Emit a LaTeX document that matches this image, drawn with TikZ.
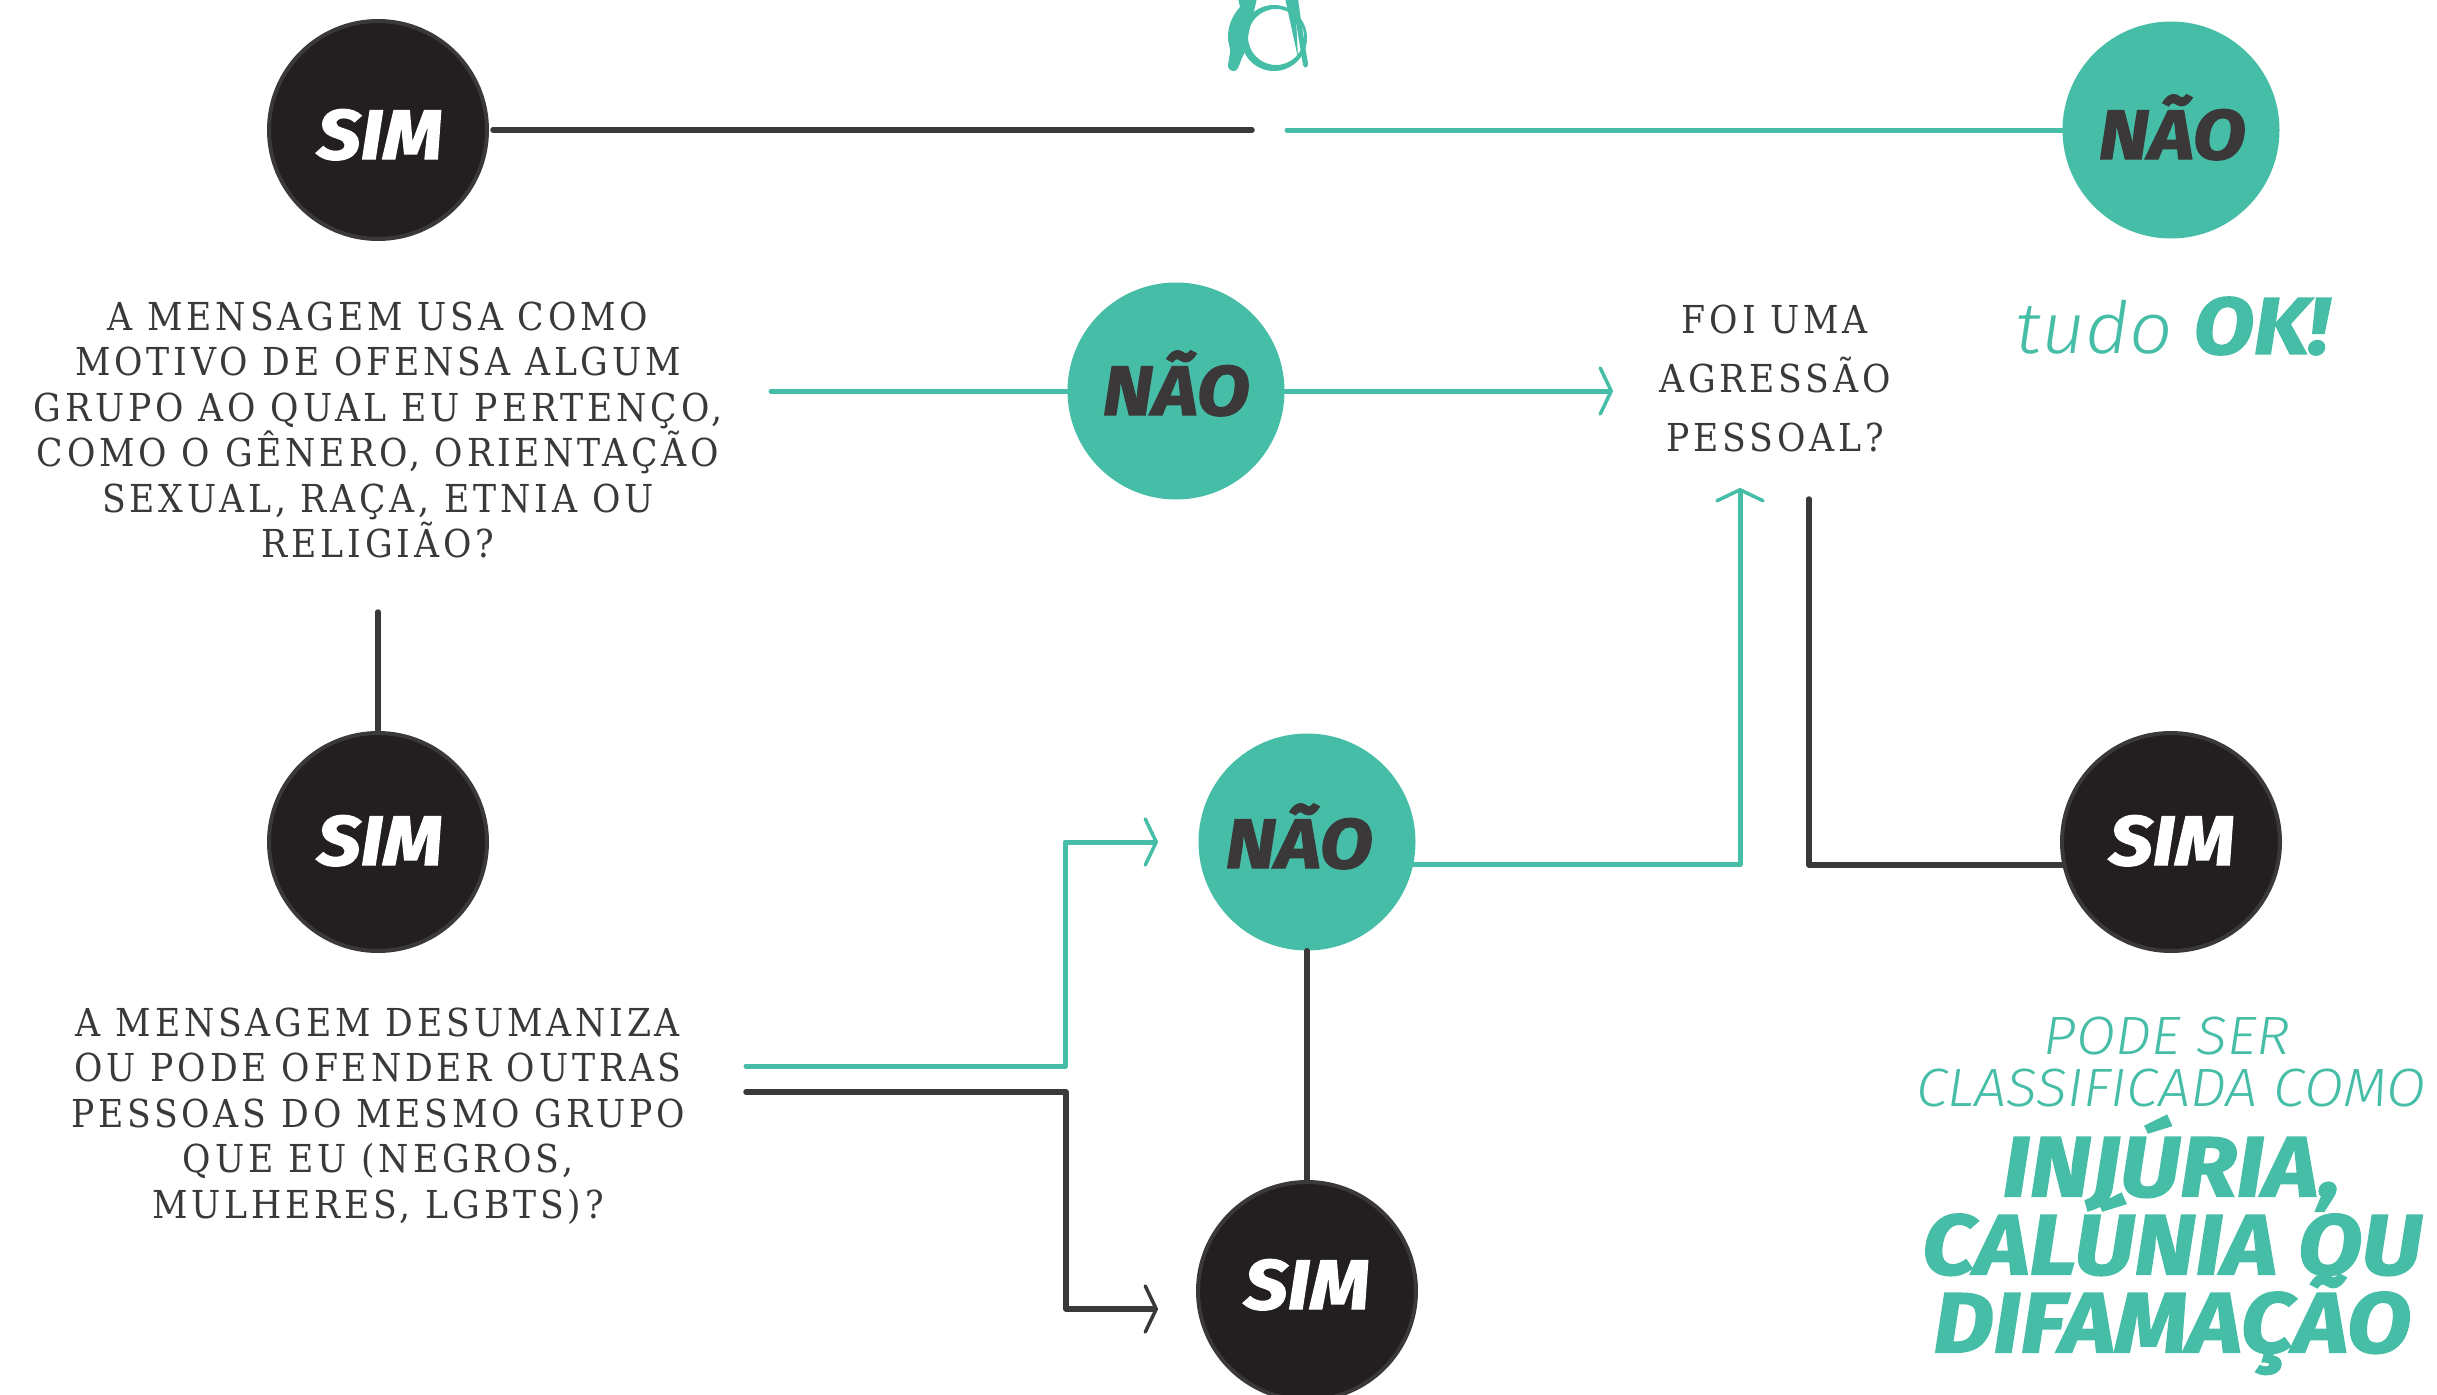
\documentclass[tikz,border=0pt]{standalone}
\usepackage{fontspec}
\usetikzlibrary{arrows.meta}
\newfontfamily\slabfont[LetterSpace=10.0]{DejaVu Serif Condensed}
\newfontfamily\heavyfont[ItalicFont={* Bold Italic},ItalicFeatures={FakeBold=2,FakeStretch=1.1}]{Fira Sans}
\newfontfamily\lightfont[ItalicFont={* Light Italic},ItalicFeatures={FakeStretch=1.06}]{Fira Sans}
\definecolor{bareteal}{HTML}{46BDA6}
\definecolor{bareink}{HTML}{3A3839}
\definecolor{baredisc}{HTML}{231F20}
\def\word#1#2#3{\hspace*{#1}\raisebox{#2}[48pt][0pt]{#3}}
\tikzset{
    disc/.style={circle, inner sep=0pt, font=\heavyfont\itshape\fontsize{70}{70}\selectfont},
    simdisc/.style={disc, draw=bareink, line width=4pt, fill=baredisc, text=white, minimum size=218pt},
    naodisc/.style={disc, fill=bareteal, text=bareink, minimum size=217pt},
    question/.style={align=center, inner sep=0pt, text=bareink},
    verdict/.style={align=center, inner sep=0pt, text=bareteal, execute at begin node={\lineskiplimit=-100pt\relax}},
    inkline/.style={draw=bareink, line width=5.5pt, line cap=round, line join=round},
    tealline/.style={draw=bareteal, line width=5pt, line cap=round, line join=round},
    barb/.style={-{Straight Barb[length=11pt,width=46pt,line width=3.5pt,round]}}
}
\begin{document}
\begin{tikzpicture}[x=1pt,y=-1pt]
    \useasboundingbox (0,0) rectangle (2437,1395);
    \clip (0,0) rectangle (2437,1395);
    % discs
    \node[simdisc] (simtop) at (378,130) {\word{4pt}{-5pt}{SIM}};
    \node[naodisc] (naotop) at (2171,130) {\word{2pt}{-5pt}{NÃO}};
    \node[naodisc] (naomid) at (1176,391) {\word{0pt}{0pt}{NÃO}};
    \node[simdisc] (simleft) at (378,842) {\word{4pt}{1pt}{SIM}};
    \node[naodisc] (naolow) at (1307,842) {\word{-16pt}{-2pt}{NÃO}};
    \node[simdisc] (simlow) at (1307,1291) {\word{0pt}{6pt}{SIM}};
    \node[simdisc] (simright) at (2171,842) {\word{2pt}{1pt}{SIM}};
    % questions
    \node[question, font=\slabfont\fontsize{38.5}{45.5}\selectfont] (qgroup) at (378,430)
        {A MENSAGEM USA COMO\\MOTIVO DE OFENSA ALGUM\\GRUPO AO QUAL EU PERTENÇO,\\COMO O GÊNERO, ORIENTAÇÃO\\SEXUAL, RAÇA, ETNIA OU\\RELIGIÃO?};
    \node[question, font=\slabfont\fontsize{38.5}{45.5}\selectfont] (qdesum) at (378,1116)
        {A MENSAGEM DESUMANIZA\\OU PODE OFENDER OUTRAS\\PESSOAS DO MESMO GRUPO\\QUE EU (NEGROS,\\MULHERES, LGBTS)?};
    \node[question, font=\slabfont\fontsize{38.5}{59}\selectfont] (qagress) at (1775,378)
        {FOI UMA\\AGRESSÃO\\PESSOAL?};
    % verdicts
    \node[verdict] (tudook) at (2172,326)
        {\lightfont\itshape\fontsize{72}{72}\selectfont tudo \heavyfont\itshape\fontsize{80}{80}\selectfont OK!};
    \node[verdict, font=\lightfont\itshape\fontsize{54}{52}\selectfont] (podeser) at (2171,1062)
        {PODE SER\hspace*{8pt}\\CLASSIFICADA COMO};
    \node[verdict, font=\heavyfont\itshape\fontsize{85}{78}\selectfont] (crimes) at (2172,1245)
        {INJÚRIA,\\CALÚNIA OU\hspace*{20pt}\\DIFAMAÇÃO};
    % free ends
    \coordinate (gapl) at (1252,130);
    \coordinate (gapr) at (1287,130);
    \coordinate (midin) at (771,391);
    \coordinate (midout) at (1613,391);
    \coordinate (vtop) at (378,612);
    \coordinate (tealin) at (746,1066);
    \coordinate (tealbend) at (1065,1066);
    \coordinate (tealend) at (1158,842);
    \coordinate (inkin) at (746,1092);
    \coordinate (inkbend) at (1066,1092);
    \coordinate (inkend) at (1158,1309);
    \coordinate (upend) at (1740,488);
    \coordinate (downtop) at (1809,499);
    % connectors
    \draw[inkline, shorten <=4pt] (simtop) -- (gapl);
    \draw[tealline] (gapr) -- (naotop);
    \draw[tealline] (midin) -- (naomid);
    \draw[tealline, barb] (naomid) -- (midout);
    \draw[inkline] (vtop) -- (simleft);
    \draw[tealline, barb] (tealin) -- (tealbend) |- (tealend);
    \draw[inkline, barb] (inkin) -- (inkbend) |- (inkend);
    \draw[tealline, barb] (naolow.-12) -| (upend);
    \draw[inkline] (downtop) |- (simright.192);
    \draw[inkline] (naolow) -- (simlow);
    % emblem, cut by the page top
    \fill[bareteal, even odd rule] (1274,38) circle (33) (1276,37) circle (28);
    \fill[bareteal] (1238,-2) -- (1240,7) .. controls (1232,16) and (1228,26) .. (1228,37)
        .. controls (1228,45) and (1231,48) .. (1230,53)
        -- (1228,65) .. controls (1228,72) and (1236,73) .. (1238,68)
        -- (1242,58) .. controls (1247,50) and (1246,40) .. (1252,20)
        -- (1257,-2) -- cycle;
    \fill[bareteal] (1285,-2) -- (1295,-2) -- (1298,58) -- cycle;
    \fill[bareteal] (1292,-2) -- (1298,-2) .. controls (1302,30) and (1306,50) .. (1308,64)
        .. controls (1308,68) and (1304,69) .. (1303,65) -- cycle;
\end{tikzpicture}
\end{document}
